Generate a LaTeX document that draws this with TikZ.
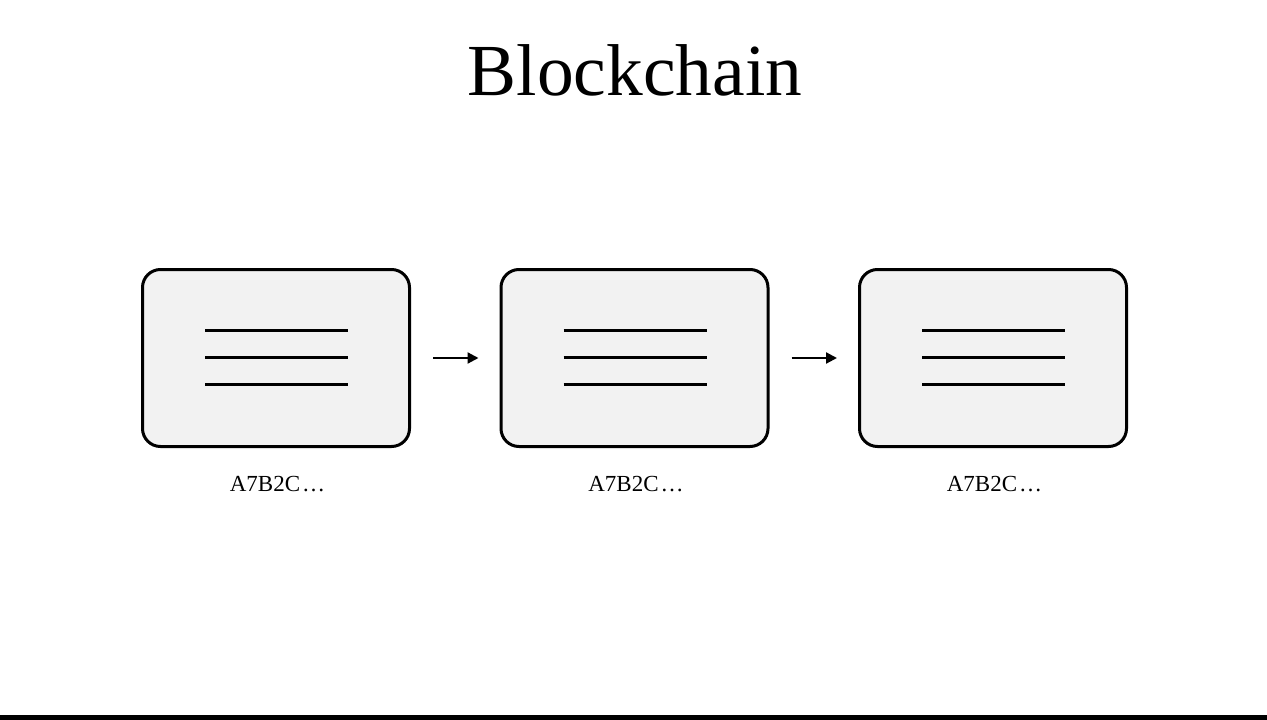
\documentclass[tikz,border=0pt]{standalone}
\usepackage{fontspec}
\setmainfont{Liberation Serif}
\usetikzlibrary{calc,arrows.meta}
\definecolor{boxfill}{HTML}{F2F2F2}
\tikzset{
  blockbox/.style={draw=black, line width=3pt, fill=boxfill, rounded corners=18pt,
    minimum width=267pt, minimum height=177pt, inner sep=0pt},
  txtline/.style={line width=3pt},
  linkarrow/.style={line width=2.2pt, -{Triangle[length=11pt,width=11pt]}, shorten <=22pt, shorten >=21pt},
  hashlabel/.style={font=\fontsize{23}{25}\selectfont, inner sep=0pt}
}
\begin{document}
\begin{tikzpicture}[x=1pt,y=-1pt]
\useasboundingbox (0,0) rectangle (1267,720);
\fill[white] (0,0) rectangle (1267,720);
\fill[black] (0,715) coordinate (barA) rectangle (1267,720) coordinate (barB);
\node[font=\fontsize{73.4}{78}\selectfont, anchor=base, inner sep=0pt] (title) at (635,95) {Blockchain};
\foreach \i/\cx in {1/276,2/634.5,3/993}{
  \node[blockbox] (b\i) at (\cx,358) {};
  \draw[txtline] ($(b\i.center)+(-71,-28)$) coordinate (l\i a) -- ($(b\i.center)+(72,-28)$) coordinate (l\i b);
  \draw[txtline] ($(b\i.center)+(-71,-1)$) coordinate (m\i a) -- ($(b\i.center)+(72,-1)$) coordinate (m\i b);
  \draw[txtline] ($(b\i.center)+(-71,26)$) coordinate (n\i a) -- ($(b\i.center)+(72,26)$) coordinate (n\i b);
  \node[hashlabel] (h\i) at (\cx+1.5,484) {A7B2C\kern2pt…};
}
\draw[linkarrow] (b1.east) -- (b2.west);
\draw[linkarrow] (b2.east) -- (b3.west);
\end{tikzpicture}
\end{document}
